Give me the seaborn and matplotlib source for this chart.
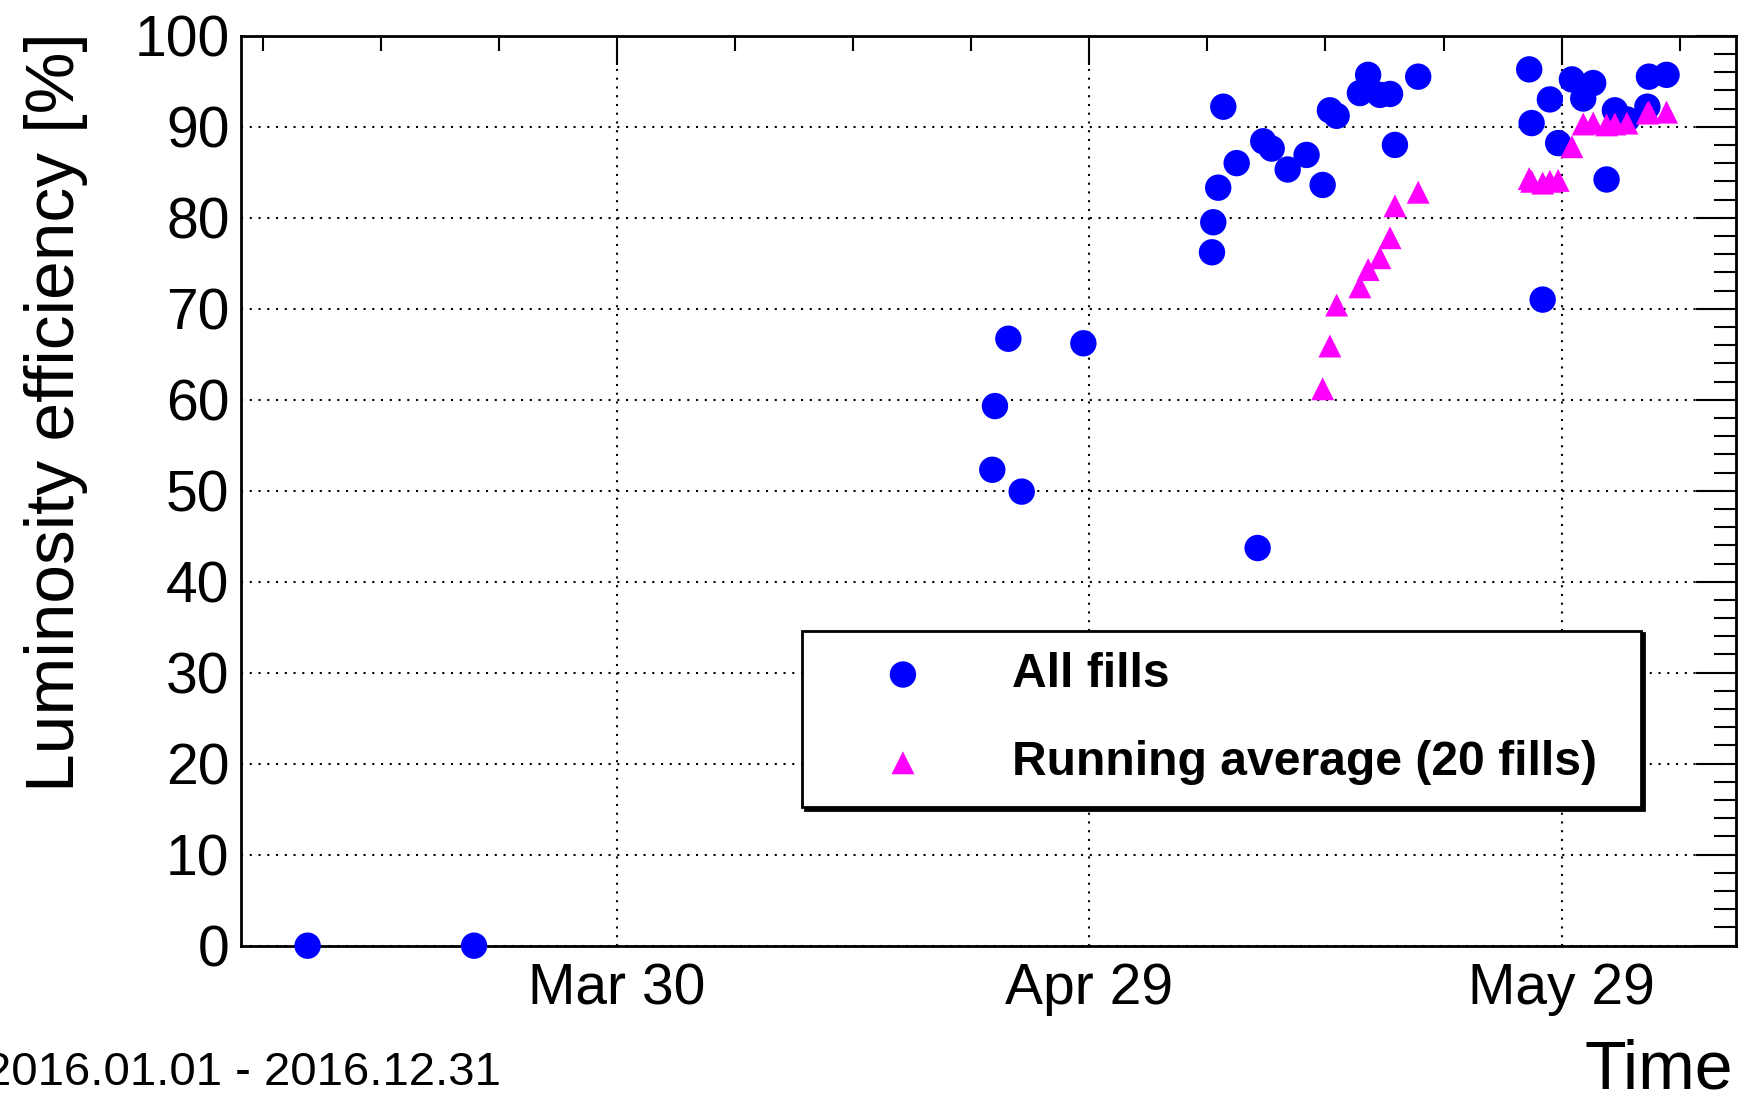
import matplotlib
matplotlib.use("Agg")
import matplotlib.pyplot as plt
import matplotlib.dates as mdates
from matplotlib.ticker import FixedLocator, MultipleLocator
import seaborn as sns
import pandas as pd
import numpy as np

# ---------------- data ----------------
fill_times = [
    "2016-03-10 08:40", "2016-03-20 22:20", "2016-04-22 20:10", "2016-04-23 00:15",
    "2016-04-23 20:40", "2016-04-24 17:00", "2016-04-28 15:00", "2016-05-06 19:00",
    "2016-05-06 21:00", "2016-05-07 04:30", "2016-05-07 12:15", "2016-05-08 08:40",
    "2016-05-09 16:35", "2016-05-10 01:10", "2016-05-10 14:00", "2016-05-11 14:25",
    "2016-05-12 19:10", "2016-05-13 19:40", "2016-05-14 06:45", "2016-05-14 17:00",
    "2016-05-16 04:30", "2016-05-16 17:00", "2016-05-17 11:00", "2016-05-18 02:25",
    "2016-05-18 09:50", "2016-05-19 21:20", "2016-05-26 22:30", "2016-05-27 02:10",
    "2016-05-27 19:00", "2016-05-28 06:00", "2016-05-28 18:40", "2016-05-29 15:35",
    "2016-05-30 08:50", "2016-05-31 00:00", "2016-05-31 20:25", "2016-06-01 09:05",
    "2016-06-02 03:20", "2016-06-03 10:35", "2016-06-03 13:00", "2016-06-04 15:50",
]
fill_eff = [
    0.0, 0.0, 52.3, 59.3,
    66.7, 49.9, 66.2, 76.2,
    79.5, 83.3, 92.2, 86.0,
    43.7, 88.4, 87.6, 85.3,
    86.9, 83.6, 91.8, 91.2,
    93.7, 95.7, 93.5, 93.6,
    88.0, 95.5, 96.3, 90.4,
    71.0, 93.0, 88.2, 95.2,
    93.1, 94.8, 84.2, 91.8,
    90.8, 92.2, 95.5, 95.7,
]

avg_times = [
    "2016-05-13 19:40", "2016-05-14 06:45", "2016-05-14 17:00", "2016-05-16 04:30",
    "2016-05-16 17:00", "2016-05-17 11:00", "2016-05-18 02:25", "2016-05-18 09:50",
    "2016-05-19 21:20", "2016-05-26 22:30", "2016-05-27 02:10", "2016-05-27 19:00",
    "2016-05-28 06:00", "2016-05-28 18:40", "2016-05-29 15:35", "2016-05-30 08:50",
    "2016-05-31 00:00", "2016-05-31 20:25", "2016-06-01 09:05", "2016-06-02 03:20",
    "2016-06-03 10:35", "2016-06-03 13:00", "2016-06-04 15:50",
]
avg_eff = [
    61.2, 65.9, 70.4, 72.4,
    74.3, 75.6, 77.8, 81.3,
    82.8, 84.3, 84.0, 83.8,
    84.0, 84.1, 87.8, 90.3,
    90.4, 90.2, 90.3, 90.4,
    91.5, 91.6, 91.6,
]

major_dates = ["2016-03-30", "2016-04-29", "2016-05-29"]
x_range = ["2016-03-06 02:40", "2016-06-09 01:40"]
y_range = [0, 100]
series_labels = ["All fills", "Running average (20 fills)"]
y_title = "Luminosity efficiency [%]"
x_title = "Time"
date_range_text = "2016.01.01 - 2016.12.31"

# ---------------- style ----------------
sns.set_style("white")
plt.rcParams["font.family"] = ["Liberation Sans", "DejaVu Sans"]
plt.rcParams.update({
    "text.color": "black", "axes.labelcolor": "black",
    "xtick.color": "black", "ytick.color": "black",
})

fig = plt.figure(figsize=(17.53, 10.99), dpi=100)
ax = fig.add_axes([0.1373, 0.1395, 0.8530, 0.8280])

df_all = pd.DataFrame({"time": pd.to_datetime(fill_times), "eff": fill_eff})
df_avg = pd.DataFrame({"time": pd.to_datetime(avg_times), "eff": avg_eff})

sns.scatterplot(data=df_all, x="time", y="eff", ax=ax, color="#0000ff",
                marker="o", s=19 ** 2, edgecolor="none", linewidth=0,
                label=series_labels[0], zorder=3, clip_on=False)
sns.scatterplot(data=df_avg, x="time", y="eff", ax=ax, color="#ff00ff",
                marker="^", s=16.5 ** 2, edgecolor="none", linewidth=0,
                label=series_labels[1], zorder=4, clip_on=False)

ax.set_xlim(pd.Timestamp(x_range[0]), pd.Timestamp(x_range[1]))
ax.set_ylim(*y_range)

major_num = mdates.date2num(pd.to_datetime(major_dates))
ax.xaxis.set_major_locator(FixedLocator(major_num))
ax.xaxis.set_minor_locator(FixedLocator(major_num[0] + 7.5 * np.arange(-3, 10)))
ax.xaxis.set_major_formatter(mdates.DateFormatter("%b %d"))
ax.yaxis.set_major_locator(MultipleLocator(10))
ax.yaxis.set_minor_locator(MultipleLocator(2))

ax.tick_params(which="both", direction="in", top=True, right=True,
               width=1.5, colors="black")
ax.tick_params(axis="x", which="major", length=21, labelsize=41, pad=12)
ax.tick_params(axis="x", which="minor", length=11)
ax.tick_params(axis="y", which="major", length=29, labelsize=41, pad=8)
ax.tick_params(axis="y", which="minor", length=16)

ax.grid(True, which="major", color="black", linestyle=(0, (1, 3.2)), linewidth=1.5)
ax.set_axisbelow(True)
for sp in ax.spines.values():
    sp.set_color("black")
    sp.set_linewidth(2)

ax.set_ylabel(y_title, fontsize=50, loc="top")
ax.yaxis.set_label_coords(-0.1235, 1.004)
ax.yaxis.label.set_va("center")

ax.set_xlabel(x_title, fontsize=49, loc="right")
ax.xaxis.set_label_coords(0.998, -0.1377)
ax.xaxis.label.set_va("center")

fig.text(0.2858, 0.0235, date_range_text, ha="right", va="center", fontsize=34)

leg = ax.legend(loc="lower left", bbox_to_anchor=(0.3754, 0.1524, 0.561, 0.1923),
                mode="expand", frameon=True, fancybox=False,
                prop={"weight": "bold", "size": 34.6}, borderpad=0.45,
                labelspacing=0.9, handlelength=3.3, handletextpad=0.62,
                borderaxespad=0, shadow={"color": "black", "alpha": 1})
leg.get_frame().set_edgecolor("black")
leg.get_frame().set_linewidth(2)
leg.get_frame().set_alpha(1)

fig.savefig("out.png", dpi=100)
